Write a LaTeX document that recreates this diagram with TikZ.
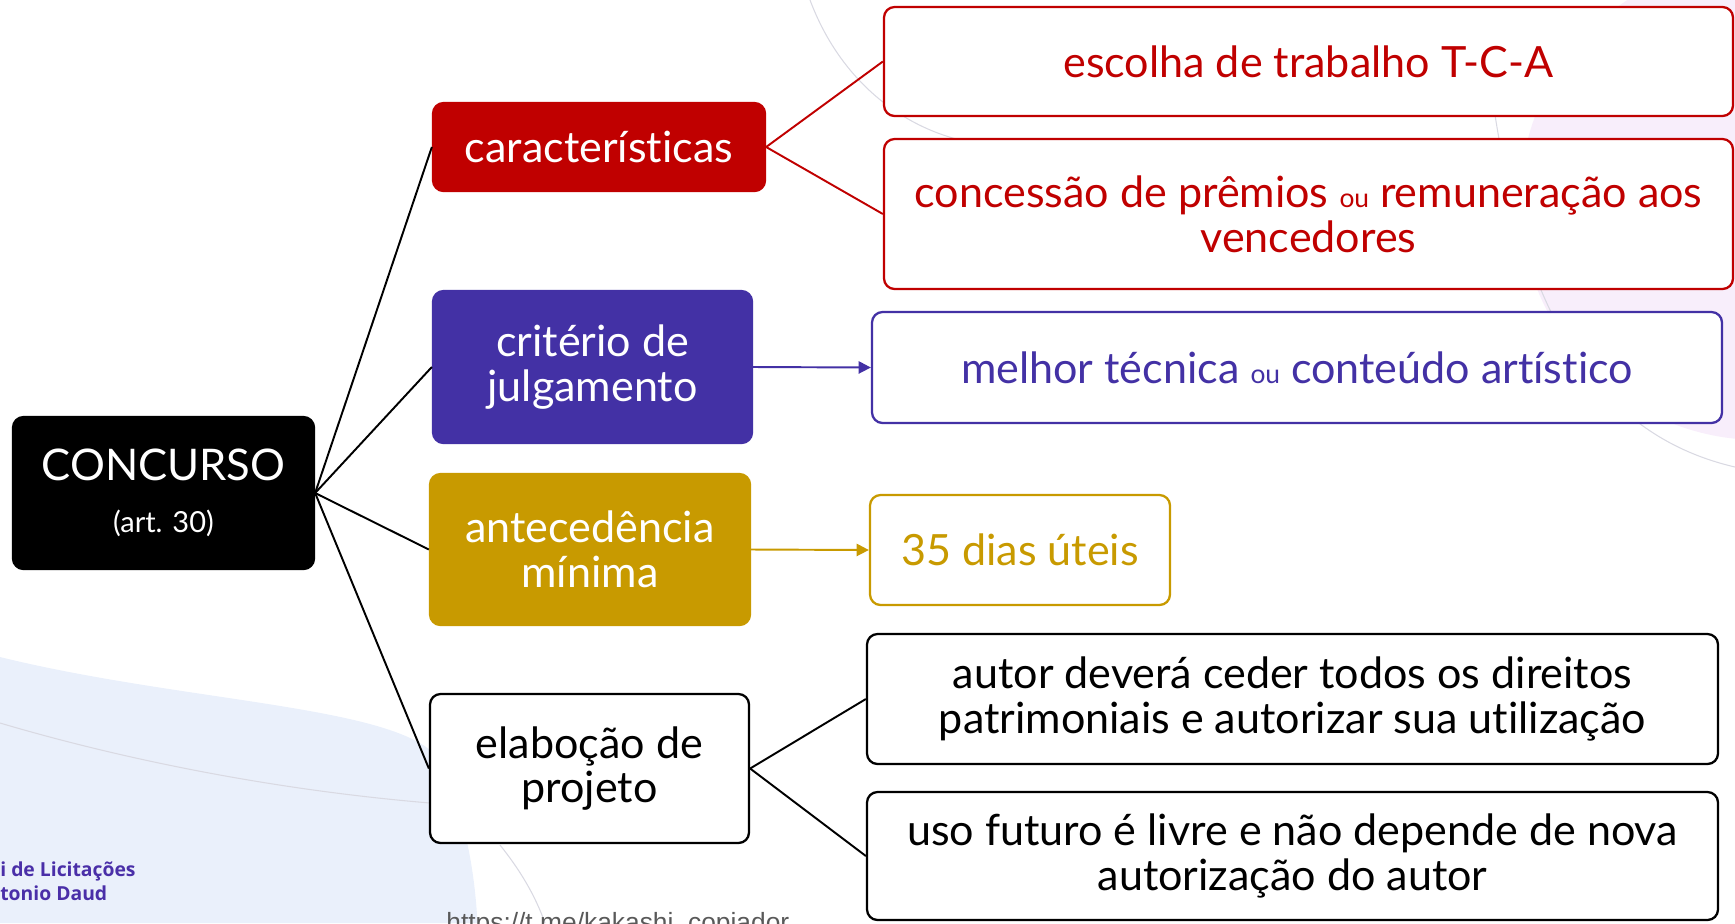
\documentclass[tikz,border=0pt]{standalone}
\usepackage{fontspec}
\setmainfont{Lato}[Ligatures=NoCommon]
\newfontfamily\ccsigfont{Open Sans}
\newfontfamily\ccurlfont{Liberation Sans}
\usepackage{xcolor}
\definecolor{ccred}{HTML}{C00000}
\definecolor{ccblue}{HTML}{4331A5}
\definecolor{ccgold}{HTML}{C89A00}
\definecolor{ccink}{HTML}{000000}
\definecolor{ccwave}{HTML}{EAF0FB}
\definecolor{cclilac}{HTML}{F8EEFB}
\definecolor{ccarc}{HTML}{D9D9E2}
\definecolor{ccurl}{HTML}{595959}
\definecolor{ccsig}{HTML}{4A2FA8}
\usepackage{tikz}
\usetikzlibrary{arrows.meta}
\tikzset{
  ccbox/.style   ={rectangle, rounded corners=6pt, line width=1.3pt, align=center,
                   inner sep=2pt, font=\fontsize{24.5}{25.5}\selectfont},
  cchead/.style  ={ccbox, fill=#1, draw=#1, text=white},
  ccleaf/.style  ={ccbox, fill=white, draw=#1, text=#1},
  ccline/.style  ={line width=1.1pt, draw=#1},
  ccarrow/.style ={-{Triangle[length=7pt,width=7pt]}, line width=1.1pt, draw=#1},
  ccdeco/.style  ={line width=0.6pt, draw=ccarc},
}
\newcommand{\ccou}{{\fontsize{15}{15}\selectfont ou}}

\begin{document}
\begin{tikzpicture}
  \useasboundingbox (0,0) rectangle (34.7,-18.46);
  % background
  \fill[cclilac] (35.2,-4.0) circle (4.8);
  \draw[ccdeco] (29.9,-2.3) .. controls (30.4,-5.5) and (31.5,-8.6) .. (34.7,-9.34);
  \draw[ccdeco] (16.2,0) .. controls (16.8,-1.6) and (18.0,-2.5) .. (19.2,-2.8);
  \fill[ccwave] (0,-13.14) .. controls (3.5,-14.0) and (7.5,-14.1) .. (8.6,-15.0)
        .. controls (9.3,-16.0) and (9.5,-17.5) .. (9.55,-18.46) -- (0,-18.46) -- cycle;
  \draw[ccdeco] (0,-14.46) .. controls (2.5,-15.2) and (5.5,-15.8) .. (8.6,-16.06);
  \draw[ccdeco] (10.0,-16.9) .. controls (10.4,-17.4) and (10.7,-17.9) .. (10.9,-18.46);

  % hub and branches
  \node[cchead=ccink, minimum width=6.02cm, minimum height=3.04cm]
       (conc) at (3.27,-9.86)
       {{\fontsize{24.8}{28}\selectfont CONCURSO}\\[4pt]{\fontsize{16.5}{19}\selectfont (art. 30)}};
  \node[cchead=ccred, minimum width=6.64cm, minimum height=1.76cm]
       (car) at (11.98,-2.94) {características};
  \node[cchead=ccblue, minimum width=6.38cm, minimum height=3.04cm]
       (crit) at (11.85,-7.34) {critério de\\julgamento};
  \node[cchead=ccgold, minimum width=6.4cm, minimum height=3.02cm]
       (ante) at (11.8,-10.99) {antecedência\\mínima};
  \node[ccleaf=ccink, minimum width=6.38cm, minimum height=2.98cm]
       (elab) at (11.79,-15.37) {elaboção de\\projeto};

  % leaves
  \node[ccleaf=ccred, minimum width=16.98cm, minimum height=2.18cm]
       (esc) at (26.17,-1.23) {escolha de trabalho T-C-A};
  \node[ccleaf=ccred, minimum width=16.98cm, minimum height=3.0cm]
       (prem) at (26.17,-4.28) {concessão de prêmios \ccou{} remuneração aos\\vencedores};
  \node[ccleaf=ccblue, minimum width=17.0cm, minimum height=2.22cm]
       (tec) at (25.94,-7.35) {melhor técnica \ccou{} conteúdo artístico};
  \node[ccleaf=ccgold, minimum width=6.0cm, minimum height=2.2cm]
       (dias) at (20.4,-11.0) {35 dias úteis};
  \node[ccleaf=ccink, minimum width=17.02cm, minimum height=2.6cm]
       (ced) at (25.85,-13.98)
       {autor deverá ceder todos os direitos\\patrimoniais e autorizar sua utilização};
  \node[ccleaf=ccink, minimum width=17.02cm, minimum height=2.56cm]
       (uso) at (25.85,-17.12)
       {uso futuro é livre e não depende de nova\\autorização do autor};

  % connectors
  \foreach \n in {car,crit,ante,elab}{
    \draw[ccline=ccink] (conc.east) -- (\n.west);}
  \draw[ccline=ccred] (car.east) -- (esc.west);
  \draw[ccline=ccred] (car.east) -- (prem.west);
  \draw[ccarrow=ccblue] (crit.east) -- (tec.west);
  \draw[ccarrow=ccgold] (ante.east) -- (dias.west);
  \draw[ccline=ccink] (elab.east) -- (ced.west);
  \draw[ccline=ccink] (elab.east) -- (uso.west);

  % footer texts
  \node[anchor=base west, inner sep=0pt, text=ccsig, align=left,
        font=\ccsigfont\fontsize{11}{13.5}\selectfont\bfseries]
       (sig) at (0,-18.0) {i de Licitações\\tonio Daud};
  \node[anchor=base west, inner sep=0pt, text=ccurl,
        font=\ccurlfont\fontsize{15}{17}\selectfont]
       (url) at (8.92,-18.62) {https://t.me/kakashi\_copiador};
\end{tikzpicture}
\end{document}
